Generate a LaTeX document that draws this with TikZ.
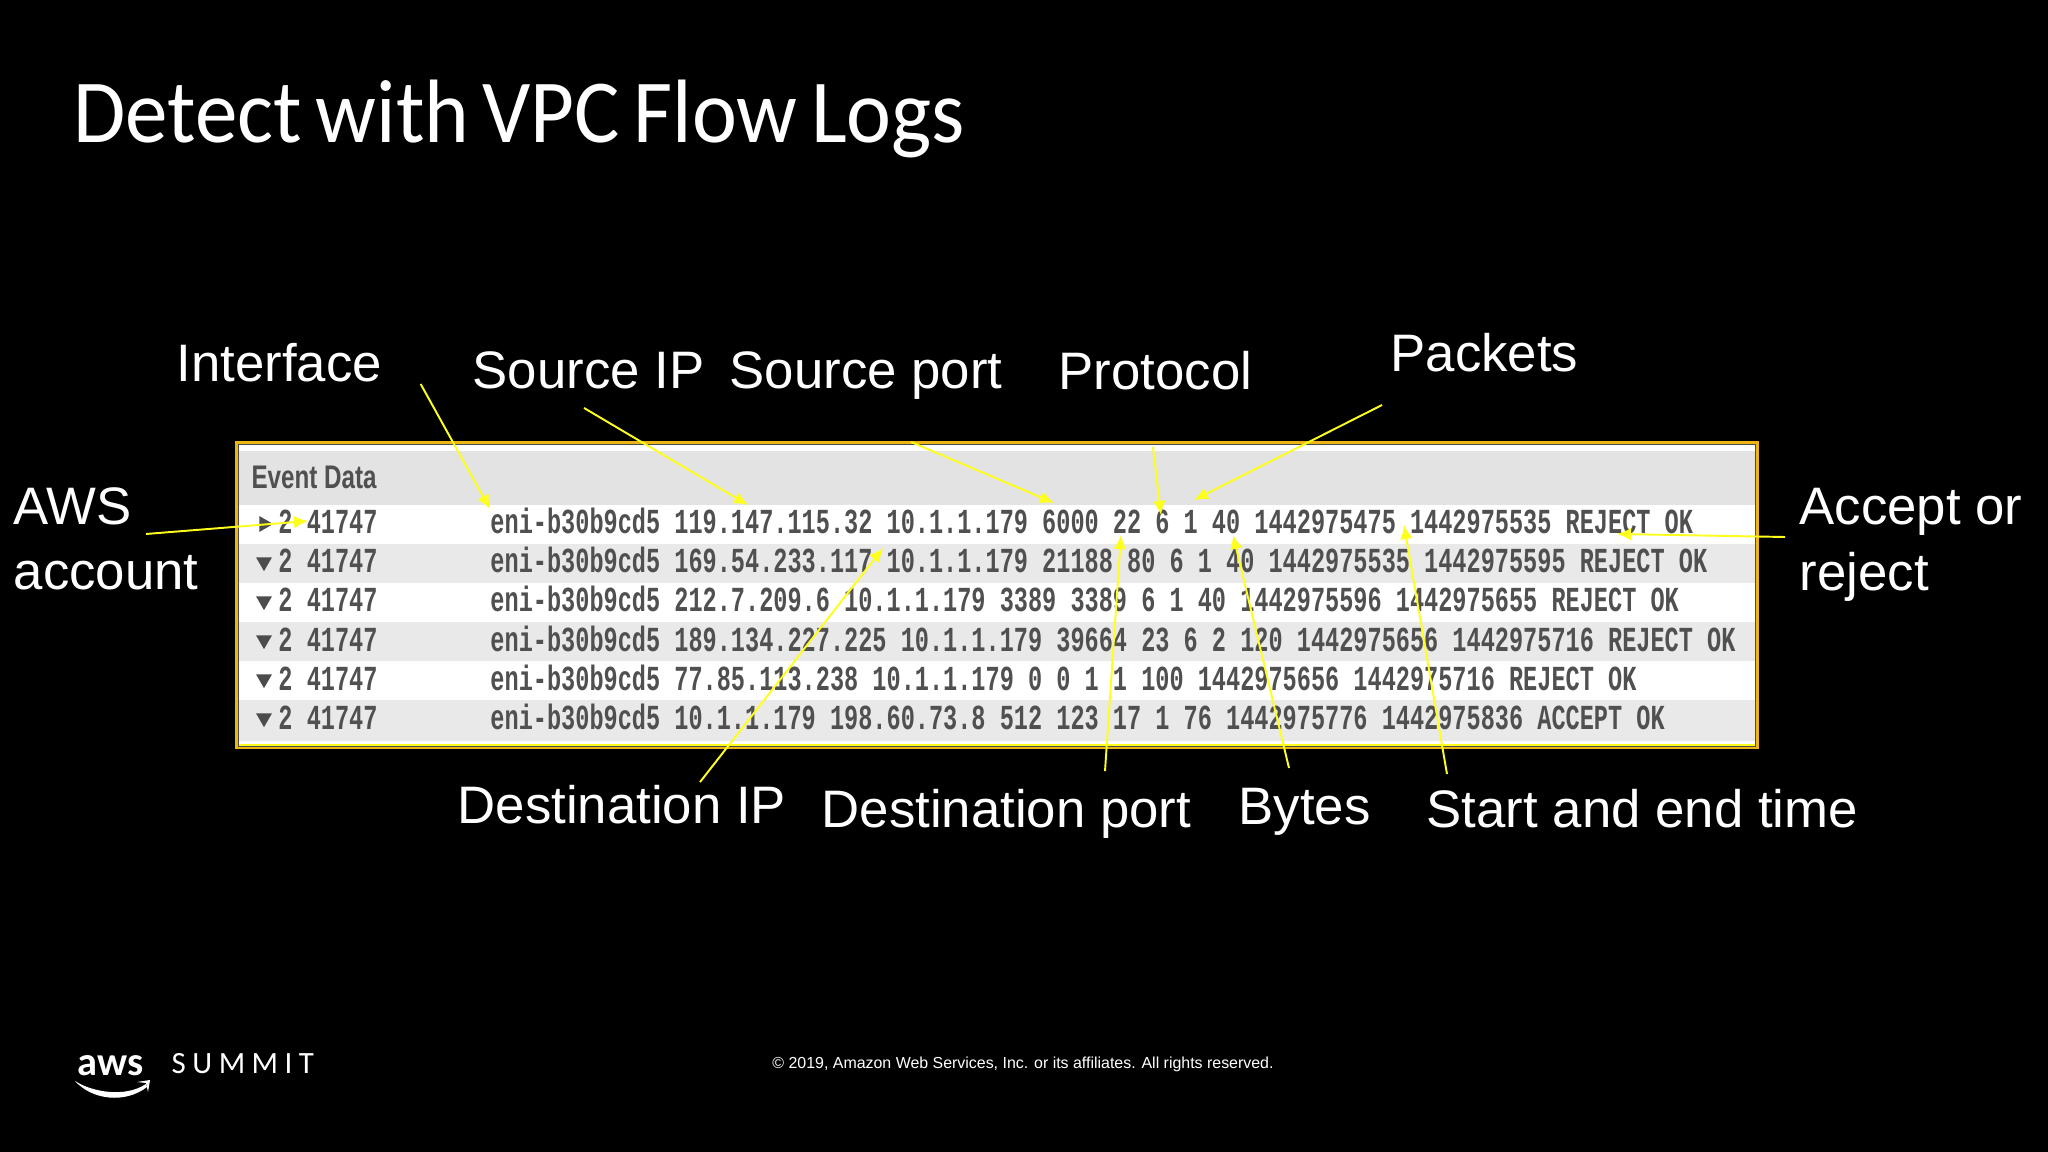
\documentclass[tikz,border=0pt]{standalone}
\usepackage{fontspec}
\setmainfont{Liberation Sans}
\newfontfamily\titlefont[WordSpace=.7]{Carlito}
\newfontfamily\logofont[LetterSpace=21]{Carlito}
\newfontfamily\monofont{Liberation Mono}
\usetikzlibrary{shapes.geometric,arrows.meta}
\definecolor{framegold}{HTML}{ECB512}
\definecolor{rowgray}{HTML}{E9E9E9}
\definecolor{headgray}{HTML}{E3E3E3}
\definecolor{rowtext}{HTML}{505050}
\definecolor{pointer}{HTML}{FFFF1E}
\tikzset{
  callout/.style={font=\fontsize{15}{18.6}\selectfont, text=white, inner sep=0pt, anchor=base west, align=left},
  logtext/.style={font=\monofont\bfseries\fontsize{10}{12}\selectfont, text=rowtext, inner sep=0pt, anchor=base west, xscale=.6705, transform shape},
  rowband/.style={fill=rowgray, draw=none},
  marker/.style={regular polygon, regular polygon sides=3, minimum size=5.2pt, inner sep=0pt, fill=black!70},
  pointerline/.style={draw=pointer, line width=.55pt, -{Latex[length=4pt,width=3.6pt]}}
}
\begin{document}
\begin{tikzpicture}[x=.01cm,y=-.01cm]
            % Page and bounding box, 1 unit is 1 px of the slide
            \fill[black] (0,0) rectangle (2048,1152);
            \useasboundingbox (0,0) rectangle (2048,1152);

            % Title
            \node[font=\titlefont\fontsize{25.6}{30}\selectfont, text=white, inner sep=0pt, anchor=base west, xscale=.945, transform shape] (title) at (73,143) {Detect with VPC Flow Logs};

            % Table background
            \fill[white] (236,441) rectangle (1758,748);
            \fill[headgray] (238,451) rectangle (1756,505);
            \fill[rowband] (238,544) rectangle (1756,583);
            \fill[rowband] (238,622) rectangle (1756,661);
            \fill[rowband] (238,700) rectangle (1756,741);
            \draw[pointer,line width=.3pt] (239,745) -- (1755,745);
            \draw[black!70,line width=.3pt] (238,444.5) rectangle (1755.5,746.5);
            \draw[framegold,line width=.85pt] (236.5,442.5) rectangle (1757.5,748);

            \node[font=\bfseries\fontsize{9.3}{11}\selectfont, text=rowtext, inner sep=0pt, anchor=base west, xscale=.74, transform shape] (header) at (251,489) {Event Data};

            % Expand markers
            \node[marker, rotate=-90] (m1) at (264,524) {};
            \node[marker, rotate=180] (m2) at (264,562) {};
            \node[marker, rotate=180] (m3) at (264,601) {};
            \node[marker, rotate=180] (m4) at (264,640) {};
            \node[marker, rotate=180] (m5) at (264,679) {};
            \node[marker, rotate=180] (m6) at (264,718) {};

            % Account column
            \node[logtext] (acct1) at (278,534) {2 41747};
            \node[logtext] (acct2) at (278,573) {2 41747};
            \node[logtext] (acct3) at (278,612) {2 41747};
            \node[logtext] (acct4) at (278,651) {2 41747};
            \node[logtext] (acct5) at (278,690) {2 41747};
            \node[logtext] (acct6) at (278,729) {2 41747};

            % Log records
            \node[logtext] (rec1) at (490,534) {eni-b30b9cd5 119.147.115.32 10.1.1.179 6000 22 6 1 40 1442975475 1442975535 REJECT OK};
            \node[logtext] (rec2) at (490,573) {eni-b30b9cd5 169.54.233.117 10.1.1.179 21188 80 6 1 40 1442975535 1442975595 REJECT OK};
            \node[logtext] (rec3) at (490,612) {eni-b30b9cd5 212.7.209.6 10.1.1.179 3389 3389 6 1 40 1442975596 1442975655 REJECT OK};
            \node[logtext] (rec4) at (490,651) {eni-b30b9cd5 189.134.227.225 10.1.1.179 39664 23 6 2 120 1442975656 1442975716 REJECT OK};
            \node[logtext] (rec5) at (490,690) {eni-b30b9cd5 77.85.113.238 10.1.1.179 0 0 1 1 100 1442975656 1442975716 REJECT OK};
            \node[logtext] (rec6) at (490,729) {eni-b30b9cd5 10.1.1.179 198.60.73.8 512 123 17 1 76 1442975776 1442975836 ACCEPT OK};

            % Field names
            \node[callout] (interface) at (176,382) {Interface};
            \node[callout] (srcip) at (472,389) {Source IP};
            \node[callout] (srcport) at (729,389) {Source port};
            \node[callout] (protocol) at (1058,390) {Protocol};
            \node[callout] (packets) at (1390,372) {Packets};
            \node[callout, anchor=west] (account) at (13,539) {AWS\\account};
            \node[callout, anchor=west] (accept) at (1799,545) {Accept or\\reject};
            \node[callout] (dstip) at (457,823) {Destination IP};
            \node[callout] (dstport) at (821,827) {Destination port};
            \node[callout] (bytes) at (1238,824) {Bytes};
            \node[callout] (times) at (1426,827) {Start and end time};

            % Arrow targets
            \coordinate (interfacetip) at (490,509);
            \coordinate (srciptip) at (748,505);
            \coordinate (srcporttip) at (1054,503);
            \coordinate (protocoltip) at (1161,515);
            \coordinate (packetstip) at (1194,500);
            \coordinate (accounttip) at (308,521);
            \coordinate (accepttip) at (1617,534);
            \coordinate (dstiptip) at (883,548);
            \coordinate (dstporttip) at (1121,535);
            \coordinate (bytestip) at (1233,535);
            \coordinate (timestip) at (1404,525);

            \draw[pointerline] ([shift={(38,2)}]interface.base east) -- (interfacetip);
            \draw[pointerline] ([shift={(-121,19)}]srcip.base east) -- (srciptip);
            \draw[pointerline] ([shift={(-92,53)}]srcport.base east) -- (srcporttip);
            \draw[pointerline] ([shift={(95,57)}]protocol.base west) -- (protocoltip);
            \draw[pointerline] ([shift={(-197,33)}]packets.base east) -- (packetstip);
            \draw[pointerline] ([shift={(133,-5)}]account.west) -- (accounttip);
            \draw[pointerline] ([shift={(-14,-8)}]accept.west) -- (accepttip);
            \draw[pointerline] ([shift={(243,-2)}]dstip.north west) -- (dstiptip);
            \draw[pointerline] ([shift={(284,-17)}]dstport.north west) -- (dstporttip);
            \draw[pointerline] ([shift={(51,-19)}]bytes.north west) -- (bytestip);
            \draw[pointerline] ([shift={(21,-14)}]times.north west) -- (timestip);

            % Logo and footer
            \node[font=\titlefont\bfseries\fontsize{11.5}{13}\selectfont, text=white, inner sep=0pt, anchor=base west] (aws) at (77,1075) {aws};
            \node[font=\logofont\fontsize{8.8}{10}\selectfont, text=white, inner sep=0pt, anchor=base west] (summit) at (171,1073) {SUMMIT};
            \fill[white] (75,1081) .. controls (92,1092) and (125,1098) .. (146,1084) -- (147,1087) .. controls (125,1104) and (92,1100) .. (75,1081) -- cycle;
            \fill[white] (137,1082) -- (150,1080) -- (148,1092) -- (146,1083) -- cycle;
            \node[font=\fontsize{4.53}{6}\selectfont, text=white, inner sep=0pt] (footer) at (1023,1064) {© 2019, Amazon Web Services, Inc. or its affiliates. All rights reserved.};
        \end{tikzpicture}
\end{document}
